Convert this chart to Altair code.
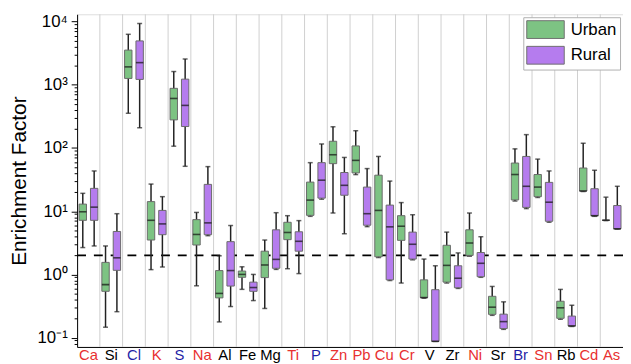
import altair as alt
import pandas as pd

elements = ["Ca", "Si", "Cl", "K", "S", "Na", "Al", "Fe", "Mg", "Ti", "P", "Zn",
            "Pb", "Cu", "Cr", "V", "Zr", "Ni", "Sr", "Br", "Sn", "Rb", "Cd", "As"]
red_labels = ["Ca", "K", "Na", "Ti", "Zn", "Pb", "Cu", "Cr", "Ni", "Sn", "Cd", "As"]
blue_labels = ["Cl", "S", "P", "Br"]

# Urban box statistics (min, q1, median, q3, max)
urban_min = [2.66, 0.146, 355, 1.19, 107, 0.66, 0.177, 0.58, 0.289, 1.23, 8.3, 9.37,
             38, 1.85, 0.73, 0.42, 0.73, 1.95, 0.225, 14.5, 16.5, 0.195, 20.5, 7.1]
urban_q1 = [7.18, 0.54, 1264, 3.5, 279, 2.92, 0.425, 0.90, 0.89, 3.55, 8.6, 56.6,
            40.4, 1.9, 3.46, 0.43, 0.755, 2.0, 0.233, 15.1, 17.0, 0.202, 20.9, 7.2]
urban_med = [9.8, 0.69, 1925, 7.18, 609, 4.29, 0.5, 1.0, 1.41, 4.61, 15.0, 78.3,
             63.8, 10.3, 5.79, 0.43, 1.39, 3.14, 0.303, 38.1, 24.1, 0.296, 20.9, 7.2]
urban_q3 = [12.96, 1.55, 3548, 14.2, 881, 7.36, 1.15, 1.13, 2.33, 6.68, 28.9, 128,
            108, 37.2, 8.5, 0.82, 2.89, 5.08, 0.45, 57.9, 38.1, 0.376, 48.3, 7.2]
urban_max = [19.2, 2.82, 6310, 26.9, 1625, 9.57, 1.97, 1.32, 3.5, 8.5, 58.7, 217,
             188, 73.6, 13.7, 1.75, 4.67, 9.37, 0.645, 97, 66.8, 0.579, 119, 16.7]

# Rural box statistics (min, q1, median, q3, max)
rural_min = [2.82, 0.257, 209, 1.31, 51.4, 4.1, 0.31, 0.385, 1.2, 1.03, 15.5, 4.4,
             5.7, 0.8, 1.7, 0.087, 0.6, 0.9, 0.135, 11, 6.7, 0.15, 8.3, 5.2]
rural_q1 = [7.18, 1.16, 1219, 4.25, 219, 4.25, 0.654, 0.54, 1.25, 2.33, 16.1, 17.9,
            6.0, 0.82, 1.75, 0.0873, 0.615, 0.92, 0.139, 11.5, 6.93, 0.153, 8.5, 5.27]
rural_med = [11.6, 1.83, 2248, 6.3, 473, 6.54, 1.15, 0.62, 1.73, 3.34, 31, 25.7,
             9.14, 5.66, 3.0, 0.0873, 0.87, 1.5, 0.179, 24.8, 13.9, 0.153, 8.5, 5.27]
rural_q3 = [23, 4.78, 4960, 10.3, 1231, 26.6, 3.3, 0.755, 5.08, 4.73, 58.7, 41,
            24.1, 12.5, 4.67, 0.573, 1.37, 2.22, 0.235, 73.6, 28.6, 0.219, 22.7, 12.3]
rural_max = [43.4, 9.14, 9370, 17, 2566, 50.8, 5.94, 1.0, 9.48, 7.1, 116, 71,
             47.3, 30, 8.8, 1.37, 2.19, 3.95, 0.368, 163, 43.4, 0.325, 44.5, 24.8]

groups = ["Urban", "Rural"]
group_colors = ["#7dc383", "#b57cee"]
threshold = [2]

rows = []
for g, mn, q1, md, q3, mx in [
    ("Urban", urban_min, urban_q1, urban_med, urban_q3, urban_max),
    ("Rural", rural_min, rural_q1, rural_med, rural_q3, rural_max),
]:
    for i, el in enumerate(elements):
        rows.append({"el": el, "group": g, "min": mn[i], "q1": q1[i],
                     "med": md[i], "q3": q3[i], "max": mx[i]})
df = pd.DataFrame(rows)
grid_df = pd.DataFrame({"el": elements[1:]})
thr_df = pd.DataFrame({"v": threshold})

FONT = "Liberation Sans"
W, H = 553, 337

xscale = alt.Scale(domain=elements, paddingInner=0, paddingOuter=0)
yscale = alt.Scale(type="log", domain=[0.0711, 13090], nice=False)
offscale = alt.Scale(domain=groups, paddingInner=0, paddingOuter=0)

# y axis ticks: decades plus minor ticks
tick_vals = []
for k in range(-2, 5):
    for m in range(1, 10):
        v = m * 10 ** k
        if 0.0711 <= v <= 13090:
            tick_vals.append(round(v, 6))

sup = {-1: "10⁻¹", 0: "10⁰", 1: "10¹", 2: "10²", 3: "10³", 4: "10⁴"}
expo = "round(log(datum.value)/LN10)"
is_major = "abs(log(datum.value)/LN10 - round(log(datum.value)/LN10)) < 1e-6"
lab = "''"
for e, s in sup.items():
    lab = f"({expo} == {e} ? '{s}' : {lab})"
label_expr = f"{is_major} ? {lab} : ''"

red_test = "indexof(" + str(red_labels) + ", datum.value) >= 0"
blue_test = "indexof(" + str(blue_labels) + ", datum.value) >= 0"

x_axis = alt.Axis(
    title=None, ticks=False, grid=False, labelAngle=0, labelFont=FONT,
    labelFontSize=15, labelPadding=1, domainColor="black",
    labelColor={"condition": [{"test": red_test, "value": "#e8302f"},
                              {"test": blue_test, "value": "#1f1fa6"}],
                "value": "black"},
)
y_axis = alt.Axis(
    title="Enrichment Factor", titleFont=FONT, titleFontSize=21,
    titleFontWeight="normal", titleColor="black", titlePadding=8,
    values=tick_vals, labelExpr=label_expr, labelFont=FONT, labelFontSize=17,
    labelColor="black", labelPadding=4, grid=False, domainColor="black",
    tickColor="black", tickSize={"condition": {"test": is_major, "value": 6}, "value": 3},
    labelOverlap=False, labelFlush=False,
)

grid = alt.Chart(grid_df).mark_rule(color="#cfcfcf", strokeWidth=1).encode(
    x=alt.X("el:N", scale=xscale, bandPosition=0, axis=x_axis),
)

thr = alt.Chart(thr_df).mark_rule(color="black", strokeWidth=1.6, strokeDash=[9, 8]).encode(
    y=alt.Y("v:Q", scale=yscale, axis=y_axis),
)

base = alt.Chart(df).encode(
    x=alt.X("el:N", scale=xscale, axis=x_axis),
    xOffset=alt.XOffset("group:N", scale=offscale),
)

whisk = base.mark_rule(color="#222222", strokeWidth=1.5).encode(
    y=alt.Y("min:Q", scale=yscale, axis=y_axis), y2="max:Q",
)
cap_top = base.mark_tick(color="#222222", size=5, thickness=1.5).encode(
    y=alt.Y("max:Q", scale=yscale, axis=y_axis),
)
cap_bot = base.mark_tick(color="#222222", size=5, thickness=1.5).encode(
    y=alt.Y("min:Q", scale=yscale, axis=y_axis),
)
box = base.mark_bar(size=7.5, stroke="#6b6b6b", strokeWidth=1, opacity=1).encode(
    y=alt.Y("q1:Q", scale=yscale, axis=y_axis), y2="q3:Q",
    color=alt.Color(
        "group:N",
        scale=alt.Scale(domain=groups, range=group_colors),
        legend=alt.Legend(
            title=None, orient="top-right", offset=3, padding=3,
            strokeColor="#b0b0b0", fillColor="white",
            symbolType="M-1,-1L3.22,-1L3.22,1L-1,1Z", symbolSize=324,
            symbolStrokeColor="#707070", symbolStrokeWidth=1, symbolOpacity=1,
            labelFont=FONT, labelFontSize=17, labelColor="black",
            labelOffset=26, rowPadding=3,
        ),
    ),
)
med = base.mark_tick(color="#111111", size=7.5, thickness=1.6).encode(
    y=alt.Y("med:Q", scale=yscale, axis=y_axis),
)

chart = alt.layer(grid, thr, whisk, cap_top, cap_bot, box, med).properties(
    width=W, height=H,
    autosize=alt.AutoSizeParams(type="none"),
    padding={"left": 70, "top": 4, "right": 0, "bottom": 22},
).configure_view(stroke="black", strokeWidth=1.2).configure(background="white")

chart.save("out.html", embed_options={"renderer": "svg", "actions": False})
